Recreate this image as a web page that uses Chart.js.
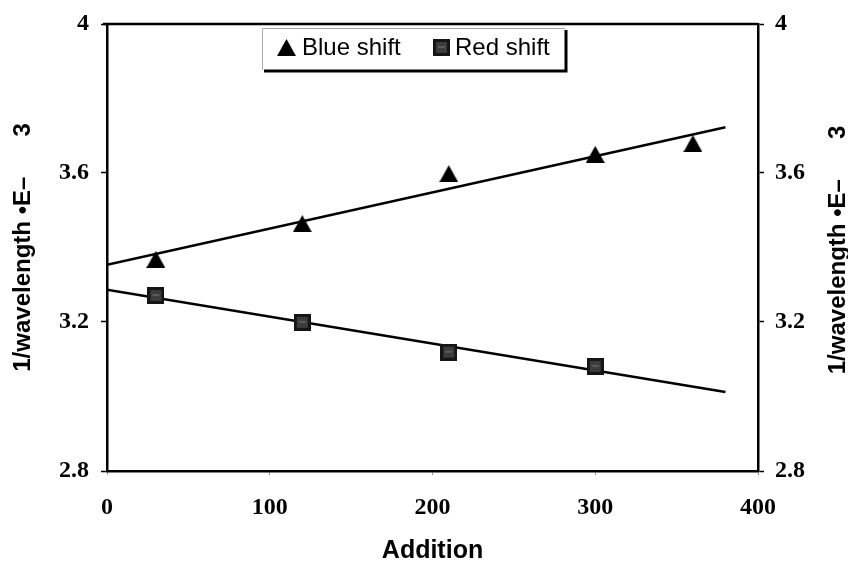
<!DOCTYPE html>
<html>
<head>
<meta charset="utf-8">
<script src="https://cdn.jsdelivr.net/npm/chart.js@4.4.1/dist/chart.umd.min.js"></script>
<style>
  html, body { margin: 0; padding: 0; background: #fff; }
  #wrap { width: 848px; height: 564px; }
</style>
</head>
<body>
<div id="wrap"><canvas id="chart"></canvas></div>
<script>
// values
const blueAdditions = [30, 120, 210, 300, 360];
const blueShift = [3.368, 3.464, 3.598, 3.650, 3.679];
const redAdditions = [30, 120, 210, 300];
const redShift = [3.271, 3.199, 3.119, 3.081];
const xTicks = [0, 100, 200, 300, 400];
const yTicks = [2.8, 3.2, 3.6, 4];
const trendRange = [0, 380];
const yTitle = '1/wavelength \u2022E\u2013      3';
const xTitle = 'Addition';

// least squares fit, like the trendlines in the original
function linearFit(xs, ys) {
    const n = xs.length;
    const mx = xs.reduce((a, b) => a + b, 0) / n;
    const my = ys.reduce((a, b) => a + b, 0) / n;
    let sxy = 0, sxx = 0;
    xs.forEach((x, i) => {
        sxy += (x - mx) * (ys[i] - my);
        sxx += (x - mx) * (x - mx);
    });
    const slope = sxy / sxx;
    const intercept = my - slope * mx;
    return trendRange.map(x => ({ x: x, y: intercept + slope * x }));
}

function toPoints(xs, ys) {
    return xs.map((x, i) => ({ x: x, y: ys[i] }));
}

// triangle marker centred on its bounding box
function triangleMarker(w, h, color) {
    const c = document.createElement('canvas');
    c.width = w;
    c.height = h;
    const g = c.getContext('2d');
    g.fillStyle = color;
    g.beginPath();
    g.moveTo(w / 2, 0);
    g.lineTo(w, h);
    g.lineTo(0, h);
    g.closePath();
    g.fill();
    return c;
}

function squareMarker(s) {
    const c = document.createElement('canvas');
    c.width = s;
    c.height = s;
    const g = c.getContext('2d');
    g.fillStyle = '#151515';
    g.fillRect(0, 0, s, s);
    g.fillStyle = '#3c3c3c';
    g.fillRect(3, 3, s - 6, s - 6);
    g.fillStyle = '#5a5a5a';
    g.fillRect(5, 7, s - 10, 2);
    return c;
}

const triImg = triangleMarker(19, 17, '#000');
const sqImg = squareMarker(17);

const tickFont = { family: '"Liberation Serif", "Times New Roman", serif', size: 24, weight: 'bold', lineHeight: 1 };
const titleFont = { family: '"Liberation Sans", Arial, sans-serif', size: 24, weight: 'bold', lineHeight: 1 };

const framePlugin = {
    id: 'frame',
    afterDraw(chart) {
        const ctx = chart.ctx;
        const a = chart.chartArea;
        ctx.save();
        // top edge of the plot box
        ctx.strokeStyle = '#000';
        ctx.lineWidth = 2.5;
        ctx.beginPath();
        ctx.moveTo(a.left - 4, a.top);
        ctx.lineTo(a.right, a.top);
        ctx.stroke();

        // right axis title, reading bottom to top like the left one
        ctx.fillStyle = '#000';
        ctx.font = 'bold 24px "Liberation Sans", Arial, sans-serif';
        ctx.textAlign = 'center';
        ctx.textBaseline = 'middle';
        ctx.translate(838, 250);
        ctx.rotate(-Math.PI / 2);
        ctx.fillText(yTitle, 0, 0);
        ctx.restore();

        // legend box
        ctx.save();
        const bx = 262, by = 28, bw = 303, bh = 42;
        ctx.fillStyle = '#fff';
        ctx.fillRect(bx, by, bw, bh);
        ctx.strokeStyle = '#aaa';
        ctx.lineWidth = 1;
        ctx.beginPath();
        ctx.moveTo(bx + 0.5, by + bh);
        ctx.lineTo(bx + 0.5, by + 0.5);
        ctx.lineTo(bx + bw, by + 0.5);
        ctx.stroke();
        ctx.strokeStyle = '#000';
        ctx.lineWidth = 3;
        ctx.beginPath();
        ctx.moveTo(bx + 2, by + bh + 1);
        ctx.lineTo(bx + bw + 1, by + bh + 1);
        ctx.lineTo(bx + bw + 1, by + 2);
        ctx.stroke();

        ctx.font = '24px "Liberation Sans", Arial, sans-serif';
        ctx.fillStyle = '#000';
        ctx.textBaseline = 'middle';
        ctx.textAlign = 'left';
        ctx.drawImage(triImg, 277, 39);
        ctx.fillText(chart.data.datasets[0].label, 302, 48);
        ctx.drawImage(sqImg, 433, 39);
        ctx.fillText(chart.data.datasets[1].label, 455, 48);
        ctx.restore();
    }
};

new Chart(document.getElementById('chart'), {
    type: 'scatter',
    data: {
        datasets: [
            {
                label: 'Blue shift',
                data: toPoints(blueAdditions, blueShift),
                pointStyle: triImg,
                pointRadius: 10,
                order: 1
            },
            {
                label: 'Red shift',
                data: toPoints(redAdditions, redShift),
                pointStyle: sqImg,
                pointRadius: 10,
                order: 1
            },
            {
                type: 'line',
                label: 'Blue trend',
                data: linearFit(blueAdditions, blueShift),
                borderColor: '#000',
                borderWidth: 2.5,
                pointRadius: 0,
                fill: false,
                order: 2
            },
            {
                type: 'line',
                label: 'Red trend',
                data: linearFit(redAdditions, redShift),
                borderColor: '#000',
                borderWidth: 2.5,
                pointRadius: 0,
                fill: false,
                order: 2
            }
        ]
    },
    options: {
        responsive: true,
        maintainAspectRatio: false,
        animation: false,
        events: [],
        layout: { padding: { top: 23, left: 0, right: 0, bottom: 0 } },
        plugins: {
            legend: { display: false },
            tooltip: { enabled: false }
        },
        scales: {
            x: {
                type: 'linear',
                position: 'bottom',
                min: 0,
                max: 400,
                afterBuildTicks: s => { s.ticks = xTicks.map(v => ({ value: v })); },
                afterFit: s => { s.height = 93; },
                grid: { drawOnChartArea: false, drawTicks: true, tickLength: 4, tickColor: '#999', tickWidth: 1 },
                border: { display: true, color: '#000', width: 2.5 },
                ticks: { color: '#000', font: tickFont, padding: 21, maxRotation: 0 },
                title: { display: true, text: xTitle, color: '#000', font: { family: titleFont.family, size: 25, weight: 'bold', lineHeight: 1 }, padding: { top: 0, bottom: 0 } }
            },
            y: {
                type: 'linear',
                position: 'left',
                min: 2.8,
                max: 4,
                afterBuildTicks: s => { s.ticks = yTicks.map(v => ({ value: v })); },
                afterFit: s => { s.width = 107; },
                grid: { drawOnChartArea: false, drawTicks: true, tickLength: 6, tickColor: '#000', tickWidth: 1.5 },
                border: { display: true, color: '#000', width: 2.5 },
                ticks: { color: '#000', font: tickFont, padding: 12, callback: v => String(v) },
                title: { display: true, text: yTitle, color: '#000', font: titleFont, padding: { top: 11, bottom: 0 } }
            },
            y2: {
                type: 'linear',
                position: 'right',
                min: 2.8,
                max: 4,
                afterBuildTicks: s => { s.ticks = yTicks.map(v => ({ value: v })); },
                afterFit: s => { s.width = 90; },
                grid: { drawOnChartArea: false, drawTicks: true, tickLength: 6, tickColor: '#000', tickWidth: 1.5 },
                border: { display: true, color: '#000', width: 2.5 },
                ticks: { color: '#000', font: tickFont, padding: 11, callback: v => String(v) }
            }
        }
    },
    plugins: [framePlugin]
});
</script>
</body>
</html>
